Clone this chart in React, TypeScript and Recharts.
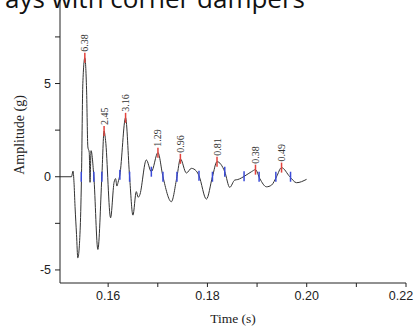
import { ComposedChart, Line, Scatter, XAxis, YAxis, Label } from 'recharts';

// time (s) and amplitude (g)
const times = [
  0.1503, 0.15262, 0.15292, 0.15312, 0.15333, 0.15363, 0.15389, 0.15438, 0.15464, 0.1549,
  0.1553, 0.15565, 0.15591, 0.15619, 0.15635, 0.15655, 0.15712, 0.15793, 0.15873, 0.15918,
  0.15948, 0.16049, 0.16119, 0.1615, 0.16176, 0.162, 0.16236, 0.16351, 0.16432, 0.16499,
  0.16567, 0.16604, 0.16634, 0.16769, 0.1687, 0.17003, 0.17104, 0.17273, 0.17386, 0.17455,
  0.17576, 0.17677, 0.17778, 0.1783, 0.17979, 0.18101, 0.18193, 0.18349, 0.18449, 0.1855,
  0.18611, 0.18752, 0.18887, 0.18968, 0.19055, 0.1919, 0.19291, 0.19392, 0.19493, 0.1966,
  0.19795, 0.19997,
];
const amplitudes = [
  0, 0, 0.3, -0.3, -1.6, -3.1, -4.35, -2.7, 0.2, 5.0,
  6.38, 4.7, 1.6, 1.3, -0.3, 1.4, 0, -3.9, 0, 2.45,
  1.95, -2.2, -0.3, -0.1, -0.5, -0.3, 0.1, 3.16, 0, -2.06,
  -0.8, -1.1, -1.0, 0.9, 0.27, 1.29, 0, -1.34, 0, 0.96,
  0.2, 0.45, 0.3, 0.05, -1.2, 0, 0.81, 0.27, -0.57, -0.18,
  -0.15, 0.04, 0.27, 0.38, -0.1, -0.54, -0.45, 0, 0.49, 0,
  -0.32, -0.14,
];

// picked peaks (red)
const peakTimes = [0.1553, 0.15918, 0.16351, 0.17003, 0.17455, 0.18193, 0.18968, 0.19493];
const peakValues = [6.38, 2.45, 3.16, 1.29, 0.96, 0.81, 0.38, 0.49];

// crossing markers (blue)
const crossTimes = [
  0.15458, 0.15712, 0.15873, 0.16236, 0.16432, 0.1687, 0.17104, 0.17386,
  0.1783, 0.18101, 0.18349, 0.18738, 0.19041, 0.19378, 0.19674,
];
const crossValues = [0, 0, 0, 0.1, 0, 0.27, 0, 0, 0.05, 0, 0.27, 0.03, 0, 0, 0];

const xTicks = [0.16, 0.17, 0.18, 0.19, 0.2, 0.21, 0.22];
const xLabels = ['0.16', '', '0.18', '', '0.20', '', '0.22'];
const yTicks = [-5, -2.5, 0, 2.5, 5, 7.5];
const yLabels = ['-5', '', '0', '', '5', ''];

const signal = times.map((t, i) => ({ t, a: amplitudes[i] }));
const peaks = peakTimes.map((t, i) => ({ t, a: peakValues[i] }));
const crossings = crossTimes.map((t, i) => ({ t, a: crossValues[i] }));

const AXIS = '#222';
const SANS = '"Liberation Sans", Arial, sans-serif';
const SERIF = '"Liberation Serif", "Times New Roman", serif';

function PeakMark(props: any) {
  const { cx, cy, payload } = props;
  if (cx == null || cy == null) return <g />;
  return (
    <g>
      <line x1={cx} x2={cx} y1={cy - 5} y2={cy + 5} stroke="#e2433d" strokeWidth={1.5} />
      <text
        x={cx}
        y={cy - 6}
        transform={`rotate(-90 ${cx} ${cy - 6})`}
        dy={3.5}
        fontSize={10}
        fontFamily={SERIF}
        fill="#333"
      >
        {payload.a.toFixed(2)}
      </text>
    </g>
  );
}

function CrossMark(props: any) {
  const { cx, cy } = props;
  if (cx == null || cy == null) return <g />;
  return <line x1={cx} x2={cx} y1={cy - 5} y2={cy + 5} stroke="#3b4bd8" strokeWidth={1.5} />;
}

function XTick(props: any) {
  const { x, y, payload } = props;
  const label = xLabels[xTicks.indexOf(payload.value)] ?? '';
  return (
    <text x={x} y={y + 11} textAnchor="middle" fontSize={12.5} fontFamily={SANS} fill="#222">
      {label}
    </text>
  );
}

function YTick(props: any) {
  const { y, payload } = props;
  const label = yLabels[yTicks.indexOf(payload.value)] ?? '';
  return (
    <text x={51} y={y + 4.5} textAnchor="end" fontSize={12.5} fontFamily={SANS} fill="#222">
      {label}
    </text>
  );
}

export default function App() {
  return (
    <div style={{ position: 'absolute', left: 0, top: 0, width: 415, height: 327, overflow: 'hidden', background: '#fff' }}>
      <ComposedChart width={415} height={327} data={signal} margin={{ top: 0, right: 9, bottom: 0, left: 0 }}>
        <XAxis
          dataKey="t"
          type="number"
          domain={[0.1503, 0.22]}
          ticks={xTicks}
          tick={XTick}
          tickSize={4}
          tickMargin={2}
          height={44}
          stroke={AXIS}
          allowDataOverflow
        >
          <Label
            content={() => (
              <text x={233} y={323} textAnchor="middle" fontSize={13.5} fontFamily={SERIF} fill="#222">
                Time (s)
              </text>
            )}
          />
        </XAxis>
        <YAxis
          type="number"
          domain={[-5.7, 9.48]}
          ticks={yTicks}
          tick={YTick}
          tickSize={5}
          tickMargin={4}
          width={60}
          stroke={AXIS}
          allowDataOverflow
        >
          <Label
            content={() => (
              <text
                x={20}
                y={135}
                transform="rotate(-90 20 135)"
                textAnchor="middle"
                dy={4}
                fontSize={14}
                fontFamily={SERIF}
                fill="#222"
              >
                Amplitude (g)
              </text>
            )}
          />
        </YAxis>
        <Line
          type="monotone"
          dataKey="a"
          stroke="#333"
          strokeWidth={1}
          dot={false}
          isAnimationActive={false}
        />
        <Scatter data={crossings} dataKey="a" shape={CrossMark} isAnimationActive={false} />
        <Scatter data={peaks} dataKey="a" shape={PeakMark} isAnimationActive={false} />
      </ComposedChart>
      <svg width={415} height={20} style={{ position: 'absolute', left: 0, top: 0 }}>
        <text x={5} y={8} fontSize={26} fontFamily='"Open Sans", "Noto Sans", sans-serif' fill="#111" textLength={300} lengthAdjust="spacingAndGlyphs">
          ays with corner dampers
        </text>
      </svg>
    </div>
  );
}
